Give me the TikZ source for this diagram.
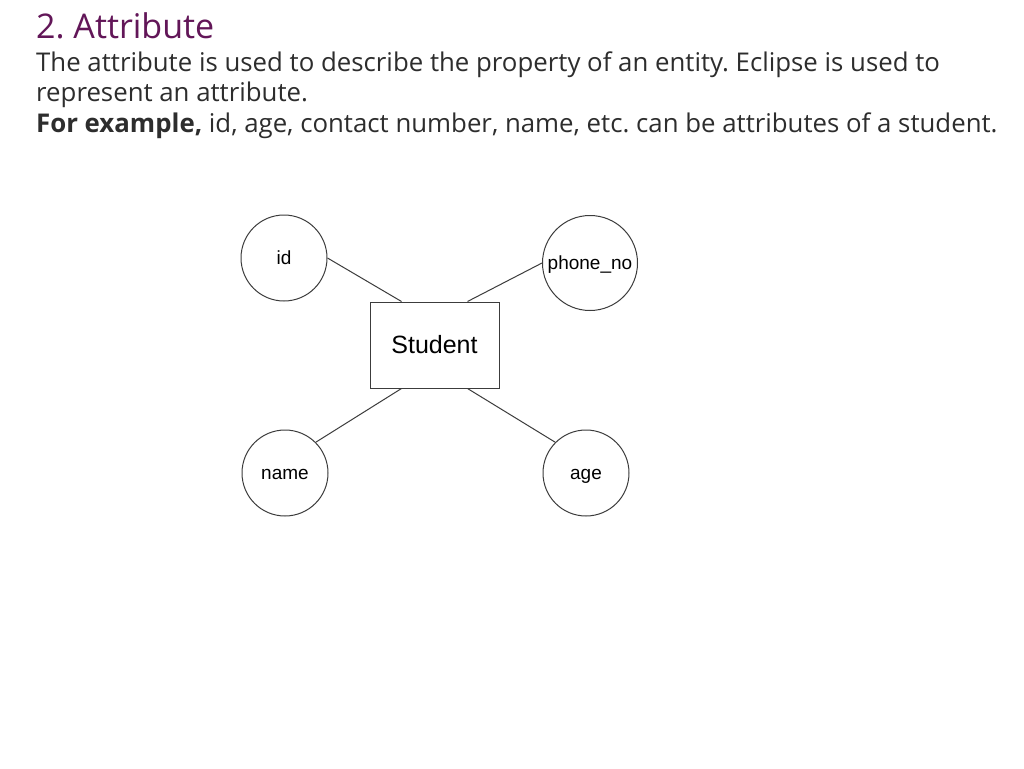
\documentclass[tikz,border=0pt]{standalone}
\usepackage{fontspec}
\setmainfont{Open Sans}
\newfontfamily\erfont{Liberation Sans}
\definecolor{titlepurple}{RGB}{98,22,88}
\definecolor{bodygray}{RGB}{45,45,45}
\definecolor{linegray}{RGB}{60,60,60}
\frenchspacing
\begin{document}
\begin{tikzpicture}[x=1pt, y=-1pt,
  attr/.style={draw=linegray, line width=1pt, circle, inner sep=0pt,
    text height=13pt, text depth=1pt,
    font=\erfont\fontsize{19}{19}\selectfont},
  entity/.style={draw=linegray, line width=1pt, rectangle,
    minimum width=129pt, minimum height=86pt,
    font=\erfont\fontsize{25}{25}\selectfont},
  textline/.style={anchor=base west, inner sep=0pt, text=bodygray,
    font=\fontsize{25.8}{30}\selectfont}]
  \fill[white] (0,0) rectangle (1024,768);
  \useasboundingbox (0,0) rectangle (1024,768);
  \node at (36, 38) [anchor=base west, inner sep=0pt, text=titlepurple,
    font=\fontsize{34}{34}\selectfont] (title) {2. Attribute};
  \node at (36, 71) [textline] (line1) {The attribute is used to describe the
    property of an entity. Eclipse is used to};
  \node at (36, 101.5) [textline] (line2) {represent an attribute.};
  \node at (36, 132) [textline] (line3) {\textbf{For example,} id, age, contact
    number, name, etc. can be attributes of a student.};
  \node at (434.5, 345) [entity] (student) {Student};
  \node at (284, 258) [attr, minimum size=86pt] (id) {id};
  \node at (590, 263) [attr, minimum size=95pt] (phone) {phone\_no};
  \node at (285, 473) [attr, minimum size=86pt] (name) {name};
  \node at (586, 473) [attr, minimum size=86pt] (age) {age};
  \draw[linegray, line width=1pt] (id.east) -- ([xshift=-33pt]student.north);
  \draw[linegray, line width=1pt] (phone.west) -- ([xshift=33pt]student.north);
  \draw[linegray, line width=1pt] (name.45) -- ([xshift=-33pt]student.south);
  \draw[linegray, line width=1pt] (age.135) -- ([xshift=33pt]student.south);
\end{tikzpicture}
\end{document}
